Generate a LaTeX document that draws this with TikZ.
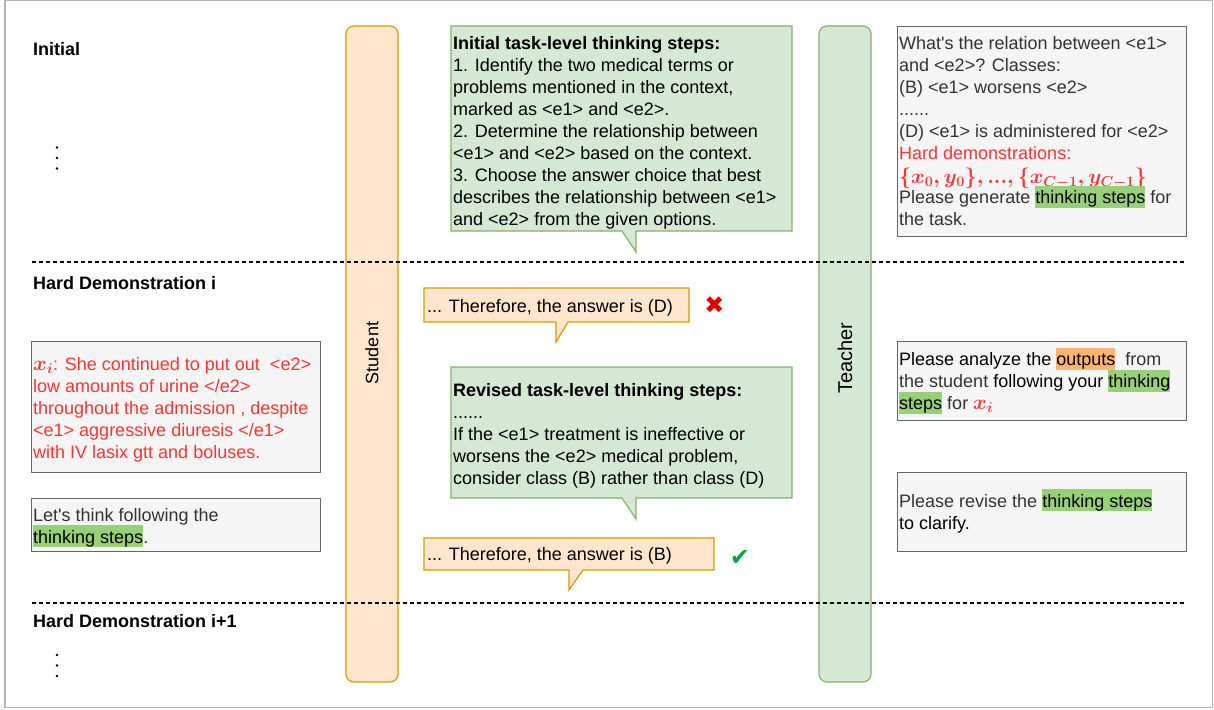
\documentclass[tikz,border=0pt]{standalone}
\usepackage{fontspec}
\setmainfont{Liberation Sans}
\newfontfamily\symfont{DejaVu Sans}
\definecolor{sfill}{HTML}{FFE6CC}
\definecolor{sdraw}{HTML}{D79B00}
\definecolor{tfill}{HTML}{D5E8D4}
\definecolor{tdraw}{HTML}{82B366}
\definecolor{gfill}{HTML}{F5F5F5}
\definecolor{gdraw}{HTML}{666666}
\definecolor{txtgray}{HTML}{333333}
\definecolor{hlgreen}{HTML}{97D077}
\definecolor{hlorange}{HTML}{FFB570}
\definecolor{myred}{HTML}{FF3333}
\definecolor{xred}{HTML}{E00000}
\definecolor{okgreen}{HTML}{00A83C}
\definecolor{framegray}{HTML}{B3B3B3}
\newcommand{\hlbox}[2]{{\setlength{\fboxsep}{0pt}\colorbox{#1}{\rule[-4pt]{0pt}{22pt}\color{black}#2}}}
\newcommand{\fst}{\rule{0pt}{18pt}}
\newcommand{\mxi}{{\color{myred}\fontsize{20}{22}\selectfont\boldmath$x_i$}}
\newcommand{\txtfont}{\fontsize{18}{22}\selectfont\setlength{\lineskiplimit}{-100pt}}
\newcommand{\lblfont}{\fontsize{18}{22}\selectfont\bfseries}
\tikzset{
  col/.style={draw, rounded corners=8pt, line width=1.2pt, inner sep=0pt, minimum width=52pt, minimum height=656pt},
  gbox/.style={draw=gdraw, fill=gfill, line width=1.2pt, inner sep=0pt, anchor=north west},
  txt/.style={anchor=north west, inner sep=0pt, align=left, font=\txtfont},
  lbl/.style={anchor=base west, inner sep=0pt, font=\lblfont},
  sepline/.style={dash pattern=on 4pt off 3pt, line width=1.2pt},
  gcall/.style={draw=tdraw, fill=tfill, line width=1.2pt},
  ocall/.style={draw=sdraw, fill=sfill, line width=1.2pt},
  markfont/.style={inner sep=0pt, font=\symfont\fontsize{24}{24}\selectfont},
}
\begin{document}
\begin{tikzpicture}[x=1pt, y=-1pt]
\useasboundingbox (0,0) rectangle (1214,709);
\fill[white] (0,0) rectangle (1214,709);
\draw[framegray, line width=1.5pt] (5,0.75) rectangle (1212.5,707.5);

% columns
\node[col, draw=sdraw, fill=sfill] (student) at (372,354) {};
\node[col, draw=tdraw, fill=tfill] (teacher) at (845,354) {};
\node[rotate=90, inner sep=0pt, font=\fontsize{18}{22}\selectfont] (slabel) at (372,353) {Student};
\node[rotate=90, inner sep=0pt, font=\fontsize{20}{24}\selectfont] (tlabel) at (845,358) {Teacher};

% section labels
\node[lbl] (linit) at (33,55.5) {Initial};
\node[lbl] (lhard) at (33,289.5) {Hard Demonstration i};
\node[lbl] (lhard2) at (33,627.5) {Hard Demonstration i+1};
\foreach \yy in {147.5,158,168.5} \fill (57,\yy) circle (1.4pt);
\foreach \yy in {655,665.5,676} \fill (57,\yy) circle (1.4pt);

% initial callout
\draw[gcall] (451,26) -- (792,26) -- (792,231) -- (636,231) -- (636,252) -- (622,231) -- (451,231) -- cycle;
\node[txt] (init) at (453,31.4) {\fst\textbf{Initial task-level thinking steps:}\\
1. Identify the two medical terms or\\
problems mentioned in the context,\\
marked as <e1> and <e2>.\\
2. Determine the relationship between\\
<e1> and <e2> based on the context.\\
3. Choose the answer choice that best\\
describes the relationship between <e1>\\
and <e2> from the given options.};

% right box 1
\node[gbox, minimum width=289pt, minimum height=210pt] (q1box) at (897,26) {};
\node[txt, text=txtgray] (q1) at (899,31.6) {\fst What\textquotesingle s the relation between <e1>\\
and <e2>? Classes:\\
(B) <e1> worsens <e2>\\
......\\
(D) <e1> is administered for <e2>\\
{\color{myred}Hard demonstrations:}\\[2pt]
{\color{myred}\fontsize{21}{22}\selectfont\boldmath$\{x_0,y_0\},...,\{x_{C-1},y_{C-1}\}$}\\[-2pt]
Please generate \hlbox{hlgreen}{thinking steps} for\\
the task.};

% separators
\draw[sepline] (32,262) -- (1185,262);
\draw[sepline] (32,603) -- (1185,603);

% left boxes
\node[gbox, minimum width=289pt, minimum height=131pt] (xbox) at (31,341) {};
\node[txt, text=myred] (xi) at (33,351.8) {\fst\mxi: She continued to put out \ <e2>\\
low amounts of urine </e2>\\
throughout the admission , despite\\
<e1> aggressive diuresis </e1>\\
with IV lasix gtt and boluses.};
\node[gbox, minimum width=289pt, minimum height=53pt] (lbox) at (31,498) {};
\node[txt, text=txtgray] (lets) at (33,502.8) {\fst Let\textquotesingle s think following the\\
\hlbox{hlgreen}{thinking steps}.};

% answer D callout
\draw[ocall] (424,288) -- (689,288) -- (689,322) -- (568,322) -- (556,342) -- (556,322) -- (424,322) -- cycle;
\node[txt] (ansd) at (427,294.2) {\fst... Therefore, the answer is (D)};
\node[markfont, text=xred] (cross) at (714.5,305) {✖};

% revised callout
\draw[gcall] (451,367) -- (792,367) -- (792,498) -- (636,498) -- (636,519) -- (622,498) -- (451,498) -- cycle;
\node[txt] (rev) at (453,378.6) {\fst\textbf{Revised task-level thinking steps:}\\
......\\
If the <e1> treatment is ineffective or\\
worsens the <e2> medical problem,\\
consider class (B) rather than class (D)};

% answer B callout
\draw[ocall] (424,538) -- (714,538) -- (714,570) -- (583,570) -- (569,590) -- (569,570) -- (424,570) -- cycle;
\node[txt] (ansb) at (427,542.4) {\fst... Therefore, the answer is (B)};
\node[markfont, text=okgreen] (check) at (740,558) {✔};

% right boxes 2 and 3
\node[gbox, minimum width=289pt, minimum height=79pt] (abox) at (897,341) {};
\node[txt, text=txtgray] (analyze) at (899,347.4) {\fst{\color{black}Please analyze the} \hlbox{hlorange}{outputs} \ from\\
the student {\color{black}following your} \hlbox{hlgreen}{thinking}\\
\hlbox{hlgreen}{steps} for \mxi};
\node[gbox, minimum width=289pt, minimum height=79pt] (rbox) at (897,472) {};
\node[txt, text=txtgray] (revise) at (899,489) {\fst Please revise the \hlbox{hlgreen}{thinking steps}\\
{\color{black}to clarify.}};
\end{tikzpicture}
\end{document}
